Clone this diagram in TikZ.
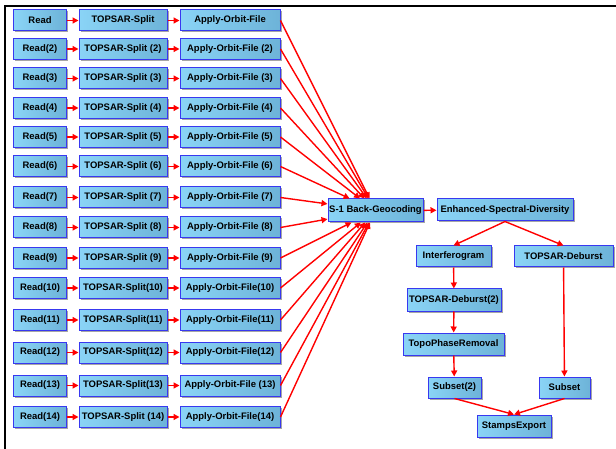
\documentclass[tikz,border=0pt]{standalone}
\usepackage{fontspec}
\setmainfont{Liberation Sans}
\usetikzlibrary{arrows.meta,shadows}
\definecolor{boxleft}{HTML}{8AD4F6}
\definecolor{boxright}{HTML}{6DB3D8}
\definecolor{boxline}{HTML}{3838F0}

\begin{document}
\begin{tikzpicture}[x=1bp,y=-1bp,
  gbox/.style={draw=boxline, line width=1bp, left color=boxleft, right color=boxright,
    minimum width=#1, minimum height=21bp, inner sep=0pt,
    font=\bfseries\fontsize{9.5}{10}\selectfont,
    drop shadow={shadow xshift=1.5bp, shadow yshift=-1.5bp, fill=black!35, opacity=1}},
  flow/.style={draw=red, line width=1.4bp, -{Triangle[length=6bp,width=6bp]}}]
  \useasboundingbox (0,0) rectangle (616,449);
  \draw[line width=2bp] (5,449) -- (5,6) -- (616,6);

  \node[gbox=95bp, minimum height=23bp] (geo) at (375.5,210.5) {S-1 Back-Geocoding};
  \node[gbox=136bp, minimum height=22bp] (esd) at (505,210) {Enhanced-Spectral-Diversity};
  \node[gbox=75bp] (ifg) at (453.5,256.5) {Interferogram};
  \node[gbox=99bp] (deb) at (563.5,256.5) {TOPSAR-Deburst};
  \node[gbox=94bp, minimum height=22bp] (deb2) at (454,300) {TOPSAR-Deburst(2)};
  \node[gbox=101bp, minimum height=22bp] (topo) at (453.5,344) {TopoPhaseRemoval};
  \node[gbox=53bp] (sub2) at (454.5,387.5) {Subset(2)};
  \node[gbox=51bp] (sub) at (564.5,387.5) {Subset};
  \node[gbox=74bp, minimum height=22bp] (stamps) at (514,426) {StampsExport};

  \foreach \i/\y/\rd/\sp/\ap in {1/20.5/Read/TOPSAR-Split/Apply-Orbit-File,
      2/49/Read(2)/TOPSAR-Split (2)/Apply-Orbit-File (2),
      3/78.5/Read(3)/TOPSAR-Split (3)/Apply-Orbit-File (3),
      4/108/Read(4)/TOPSAR-Split (4)/Apply-Orbit-File (4),
      5/137/Read(5)/TOPSAR-Split (5)/Apply-Orbit-File (5),
      6/166.5/Read(6)/TOPSAR-Split (6)/Apply-Orbit-File (6),
      7/197.5/Read(7)/TOPSAR-Split (7)/Apply-Orbit-File (7),
      8/227.5/Read(8)/TOPSAR-Split (8)/Apply-Orbit-File (8),
      9/258/Read(9)/TOPSAR-Split (9)/Apply-Orbit-File (9),
      10/288/Read(10)/TOPSAR-Split(10)/Apply-Orbit-File(10),
      11/320/Read(11)/TOPSAR-Split(11)/Apply-Orbit-File(11),
      12/352.5/Read(12)/TOPSAR-Split(12)/Apply-Orbit-File(12),
      13/385.5/Read(13)/TOPSAR-Split(13)/Apply-Orbit-File (13),
      14/417/Read(14)/TOPSAR-Split (14)/Apply-Orbit-File(14)} {
    \node[gbox=52bp] (read\i) at (40,\y) {\rd};
    \node[gbox=88bp] (split\i) at (123,\y) {\sp};
    \node[gbox=100bp] (orbit\i) at (230,\y) {\ap};
    \draw[flow] (read\i) -- (split\i);
    \draw[flow] (split\i) -- (orbit\i);
    \draw[flow] (orbit\i.east) -- (geo);
  }

  \draw[flow] (geo) -- (esd);
  \draw[flow] (esd.south) -- (ifg.north);
  \draw[flow] (esd.south) -- (deb.north);
  \draw[flow] (ifg) -- (deb2);
  \draw[flow] (deb2) -- (topo);
  \draw[flow] (topo) -- (sub2);
  \draw[flow] (deb) -- (sub);
  \draw[flow] (sub2.south) -- (stamps.north);
  \draw[flow] (sub.south) -- (stamps.north);
\end{tikzpicture}
\end{document}
